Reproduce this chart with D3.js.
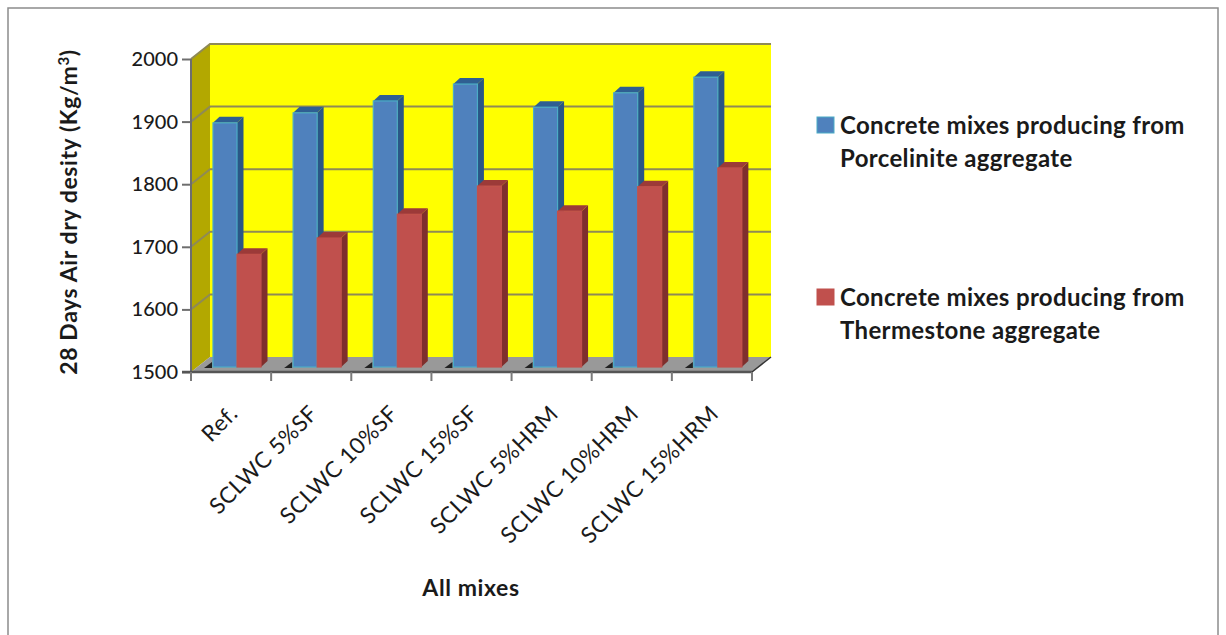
<!DOCTYPE html>
<html>
<head>
<meta charset="utf-8">
<script src="https://cdn.jsdelivr.net/npm/d3@7"></script>
<style>
html,body{margin:0;padding:0;background:#fff;}
text{font-family:Lato,"Open Sans",sans-serif;fill:#1a1a1a;}
</style>
</head>
<body>
<div id="chart"></div>
<script>
const categories = ["Ref.","SCLWC 5%SF","SCLWC 10%SF","SCLWC 15%SF","SCLWC 5%HRM","SCLWC 10%HRM","SCLWC 15%HRM"];
const porcelinite = [1890,1906,1925,1952,1915,1938,1963];
const thermestone = [1680,1706,1744,1789,1749,1788,1818];
const seriesNames = ["Porcelinite","Thermestone"];
const legendLines = [
  ["Concrete mixes producing from","Porcelinite aggregate"],
  ["Concrete mixes producing from","Thermestone aggregate"]
];
const yTicks = [1500,1600,1700,1800,1900,2000];

const W = 1226, H = 635;
const svg = d3.select("#chart").append("svg").attr("width",W).attr("height",H).style("display","block");

// Outer chart frame
svg.append("rect").attr("x",8).attr("y",8).attr("width",1210).attr("height",640)
  .attr("fill","#fff").attr("stroke","#8c8c8c").attr("stroke-width",1.5);

// Front plane of the 3D box, plus the depth offset of the back wall
const x = d3.scaleBand().domain(categories).range([191,752]);
const y = d3.scaleLinear().domain([1500,2000]).range([372,59]);
const wallDx = 19, wallDy = -15;
const barDy = -5;                  // bar base sits slightly behind the front edge
const sideDx = 6.5, sideDy = -6;   // visible depth of a bar
const inner = d3.scaleBand().domain(seriesNames).range([22,70]);

const poly = pts => pts.map(p=>p.join(",")).join(" ");
const [x0,x1] = x.range();
const yB = y(1500), yT = y(2000);

// Back wall
svg.append("rect").attr("x",x0+wallDx).attr("y",yT+wallDy)
  .attr("width",x1-x0).attr("height",yB-yT).attr("fill","#ffff00");
// Side wall
svg.append("polygon").attr("fill","#b3a800").attr("points",poly([
  [x0,yB],[x0,yT],[x0+wallDx,yT+wallDy],[x0+wallDx,yB+wallDy]]));
// Floor
svg.append("polygon").attr("fill","#999999").attr("points",poly([
  [x0,yB],[x1,yB],[x1+wallDx,yB+wallDy],[x0+wallDx,yB+wallDy]]));

// Gridlines across the back wall and side wall
const grid = svg.append("g").attr("fill","none").attr("stroke","#8f8a55").attr("stroke-width",2);
yTicks.slice(1).forEach(t=>{
  grid.append("polyline").attr("points",poly([
    [x0,y(t)],[x0+wallDx,y(t)+wallDy],[x1+wallDx,y(t)+wallDy]]));
});

// Floor outline at the right edge
svg.append("polyline").attr("fill","none").attr("stroke","#333").attr("stroke-width",1.5)
  .attr("points",poly([[x1,yB],[x1+wallDx,yB+wallDy]]));

// Bars
const series = [
  {name:seriesNames[0],values:porcelinite,front:"#4f81bd",top:"#2f5f92",side:"#2a5686",edge:"#4bacc6"},
  {name:seriesNames[1],values:thermestone,front:"#c0504d",top:"#9c3a38",side:"#7f2f2d",edge:"#c0504d"}
];
const bars = svg.append("g");
categories.forEach((c,i)=>{
  const bx = x(c)+inner(seriesNames[0]);
  // small shadow on the floor beside each group
  bars.append("polygon").attr("fill","#222").attr("points",poly([
    [bx-1,yB-4],[bx-1,yB-10],[bx-9,yB-4]]));
  // Blue bar first, so the red bar's front overlaps its side face
  series.forEach(s=>{
    const left = x(c)+inner(s.name);
    const w = inner.bandwidth();
    const top = y(s.values[i])+barDy;
    const bot = y(1500)+barDy;
    bars.append("polygon").attr("fill",s.side).attr("points",poly([
      [left+w,top],[left+w+sideDx,top+sideDy],[left+w+sideDx,bot+sideDy],[left+w,bot]]));
    bars.append("polygon").attr("fill",s.top).attr("points",poly([
      [left,top],[left+sideDx,top+sideDy],[left+w+sideDx,top+sideDy],[left+w,top]]));
    bars.append("rect").attr("x",left).attr("y",top).attr("width",w).attr("height",bot-top)
      .attr("fill",s.front).attr("stroke",s.edge).attr("stroke-width",1.2);
  });
});

// Axes
const yAxis = d3.axisLeft(y).tickValues(yTicks).tickSize(9).tickPadding(4).tickFormat(d3.format("d"));
const gy = svg.append("g").attr("transform",`translate(${x0},0)`).call(yAxis);
gy.selectAll("text").attr("font-size",20).attr("font-weight",500);
gy.selectAll("line,path").attr("stroke","#6e6e6e").attr("stroke-width",2);
gy.select("path").attr("d",`M${0},${yB}V${yT}`);

const gx = svg.append("g").attr("transform",`translate(0,${yB})`);
gx.append("line").attr("x1",x0-9).attr("x2",x1).attr("stroke","#555").attr("stroke-width",2.5);
gx.selectAll("line.tick").data(d3.range(categories.length+1)).join("line").attr("class","tick")
  .attr("x1",i=>x0+i*x.step()).attr("x2",i=>x0+i*x.step()).attr("y1",0).attr("y2",9)
  .attr("stroke","#7a7a7a").attr("stroke-width",2);

// Rotated category labels
svg.append("g").selectAll("text").data(categories).join("text")
  .attr("text-anchor","end").attr("font-size",22.5).attr("letter-spacing",0.5)
  .attr("transform",c=>`translate(${x(c)+x.bandwidth()/2+8},${yB+43}) rotate(-45)`)
  .text(c=>c);

// Axis titles
const yTitle = svg.append("text").attr("transform","translate(77,212) rotate(-90)")
  .attr("text-anchor","middle").attr("font-size",23).attr("font-weight",700).attr("letter-spacing",0.6);
yTitle.append("tspan").text("28 Days Air dry desity (Kg/m");
yTitle.append("tspan").attr("font-size",15).attr("dy",-8).text("3");
yTitle.append("tspan").attr("dy",8).text(")");
svg.append("text").attr("x",471).attr("y",596).attr("text-anchor","middle")
  .attr("font-size",23).attr("font-weight",700).attr("letter-spacing",0.6).text("All mixes");

// Legend
const legendY = [125,297];
const legend = svg.append("g");
series.forEach((s,i)=>{
  legend.append("rect").attr("x",817).attr("y",legendY[i]-8).attr("width",17).attr("height",16)
    .attr("fill",s.front).attr("stroke",s.edge).attr("stroke-width",1);
  legendLines[i].forEach((l,j)=>{
    legend.append("text").attr("x",840).attr("y",legendY[i]+9+j*33)
      .attr("font-size",24).attr("font-weight",700).attr("letter-spacing",0.35).text(l);
  });
});
</script>
</body>
</html>
